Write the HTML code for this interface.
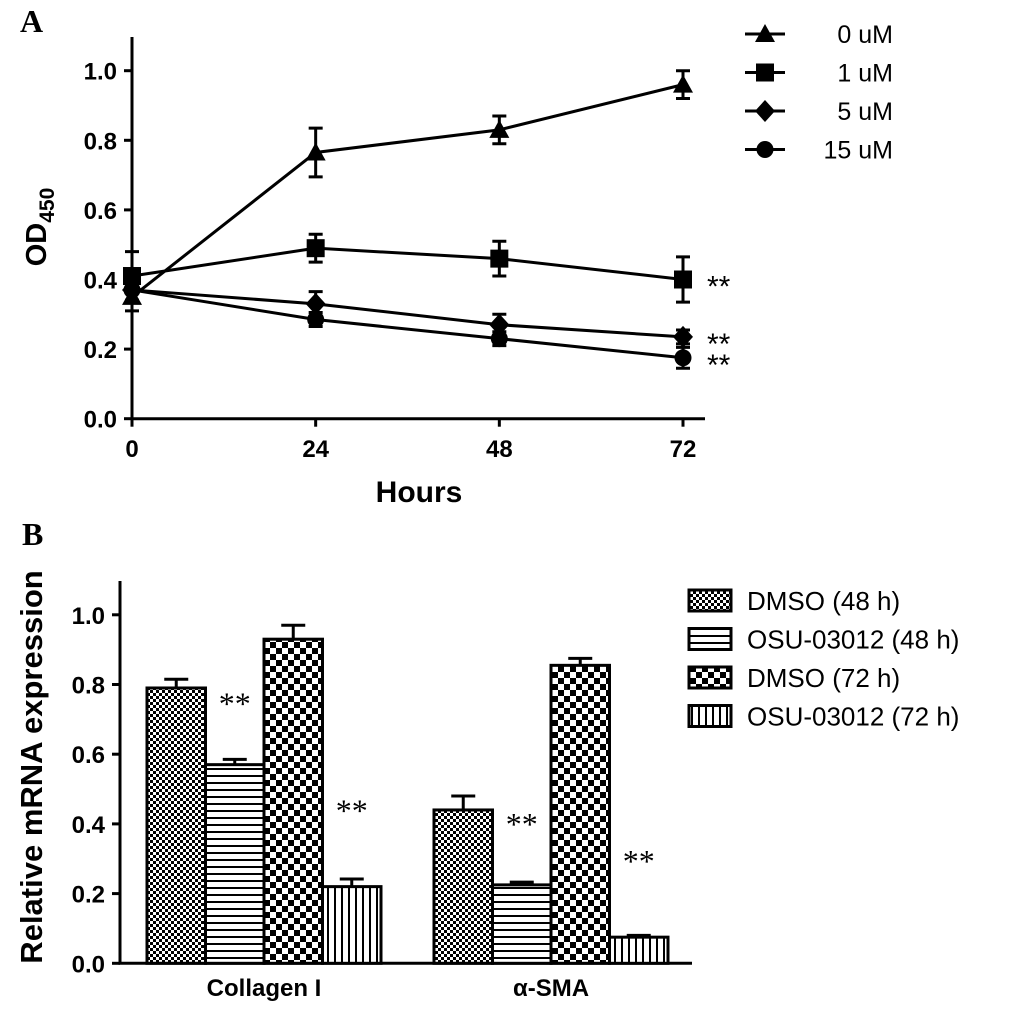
<!DOCTYPE html>
<html><head><meta charset="utf-8"><style>
html,body{margin:0;padding:0;background:#fff;}
svg{display:block;font-family:"Liberation Sans",Arial,sans-serif;}
.tk{font-weight:bold;font-size:24px;}
</style></head><body>
<svg id="s" width="1033" height="1017" viewBox="0 0 1033 1017">
<defs>
<pattern id="pFine" width="6" height="6" patternUnits="userSpaceOnUse"><rect width="6" height="6" fill="#fff"/><rect width="3" height="3" fill="#000"/><rect x="3" y="3" width="3" height="3" fill="#000"/></pattern>
<pattern id="pHor" width="6" height="7" patternUnits="userSpaceOnUse"><rect width="6" height="7" fill="#fff"/><rect y="5" width="6" height="2" fill="#000"/></pattern>
<pattern id="pBig" width="12" height="12" patternUnits="userSpaceOnUse"><rect width="12" height="12" fill="#fff"/><rect width="6" height="6" fill="#000"/><rect x="6" y="6" width="6" height="6" fill="#000"/></pattern>
<pattern id="pVer" width="7" height="6" patternUnits="userSpaceOnUse"><rect width="7" height="6" fill="#fff"/><rect x="5" width="2" height="6" fill="#000"/></pattern>
</defs>
<text x="20" y="32" font-family="Liberation Serif" font-weight="bold" font-size="32">A</text>
<text x="22" y="545" font-family="Liberation Serif" font-weight="bold" font-size="32">B</text>
<g id="ga"></g><g id="gb"></g>
</svg>
<script>
const NS='http://www.w3.org/2000/svg';
function mk(p,t,a,txt){const e=document.createElementNS(NS,t);for(const k in a)e.setAttribute(k,a[k]);if(txt!=null)e.textContent=txt;p.appendChild(e);return e;}
// ---- Panel A data
const hours=[0,24,48,72];
const aTicks=[0,0.2,0.4,0.6,0.8,1.0];
const aSeriesNames=['0 uM','1 uM','5 uM','15 uM'];
const s0=[0.35,0.765,0.83,0.96];const e0=[0.04,0.07,0.04,0.04];
const s1=[0.41,0.49,0.46,0.40];const e1=[0.07,0.04,0.05,0.065];
const s5=[0.37,0.33,0.27,0.235];const e5=[0.03,0.035,0.03,0.02];
const s15=[0.37,0.285,0.23,0.175];const e15=[0.03,0.02,0.02,0.03];
const aSig=['','**','**','**'];
// ---- Panel B data
const bCats=['Collagen I','α-SMA'];
const bNames=['DMSO (48 h)','OSU-03012 (48 h)','DMSO (72 h)','OSU-03012 (72 h)'];
const bVal0=[0.79,0.44];const bErr0=[0.025,0.04];
const bVal1=[0.57,0.225];const bErr1=[0.015,0.008];
const bVal2=[0.93,0.855];const bErr2=[0.04,0.02];
const bVal3=[0.22,0.075];const bErr3=[0.022,0.005];
const bSig=['','**','','**'];
const bTicks=[0,0.2,0.4,0.6,0.8,1.0];

const ga=document.getElementById('ga');
const ax=h=>132+h/72*551, ay=v=>418.7-v/0.2*69.6;
let el;
el=mk(ga,'path',{d:`M132 37 V${ay(0)} M${ax(0)} ${ay(0)} H705`,stroke:'#000','stroke-width':3,fill:'none'});

aTicks.forEach(t=>{mk(ga,'line',{x1:124,x2:132,y1:ay(t),y2:ay(t),stroke:'#000','stroke-width':3});
 el=mk(ga,'text',{x:117,y:ay(t)+9,'text-anchor':'end',class:'tk'},t.toFixed(1));
 });
hours.forEach(h=>{mk(ga,'line',{x1:ax(h),x2:ax(h),y1:ay(0),y2:ay(0)+8,stroke:'#000','stroke-width':3});
 el=mk(ga,'text',{x:ax(h),y:457,'text-anchor':'middle',class:'tk'},h);
 });
el=mk(ga,'text',{x:419,y:502,'text-anchor':'middle','font-weight':'bold','font-size':30},'Hours');

el=mk(ga,'text',{transform:'translate(46 227) rotate(-90)','text-anchor':'middle','font-weight':'bold','font-size':29});
el.innerHTML='OD<tspan font-size="21" dy="8">450</tspan>';

function marker(g,type,x,y){
 if(type==0)return mk(g,'path',{d:`M${x} ${y-10} L${x+10} ${y+8} L${x-10} ${y+8}Z`,fill:'#000'});
 if(type==1)return mk(g,'rect',{x:x-9,y:y-9,width:18,height:18,fill:'#000'});
 if(type==2)return mk(g,'path',{d:`M${x} ${y-11} L${x+10} ${y} L${x} ${y+11} L${x-10} ${y}Z`,fill:'#000'});
 return mk(g,'circle',{cx:x,cy:y,r:8.5,fill:'#000'});}
const aS=[s0,s1,s5,s15],aE=[e0,e1,e5,e15];
aS.forEach((s,i)=>{
 const g=mk(ga,'g',{});
 mk(g,'polyline',{points:s.map((v,j)=>ax(hours[j])+','+ay(v)).join(' '),fill:'none',stroke:'#000','stroke-width':3});
 s.forEach((v,j)=>{const x=ax(hours[j]),e=aE[i][j];
  mk(g,'path',{d:`M${x} ${ay(v-e)} V${ay(v+e)} M${x-7} ${ay(v-e)} H${x+7} M${x-7} ${ay(v+e)} H${x+7}`,stroke:'#000','stroke-width':3,fill:'none'});
  el=marker(g,i,x,ay(v));});
 if(aSig[i]){el=mk(g,'text',{x:707,y:ay(s[3])+17,'font-size':30},aSig[i]);}
 const ly=34+i*38.5;
 const lg=mk(ga,'g',{});
 mk(lg,'line',{x1:745,x2:785,y1:ly,y2:ly,stroke:'#000','stroke-width':3});marker(lg,i,765,ly);
 mk(lg,'text',{x:893,y:ly+9,'text-anchor':'end','font-size':25},aSeriesNames[i]);
});
// ---- Panel B
const gb=document.getElementById('gb');
const by=v=>963.3-v/0.2*69.7;
const groupX=[147,434], bw=58.5;
const bV=[bVal0,bVal1,bVal2,bVal3],bE=[bErr0,bErr1,bErr2,bErr3],pats=['pFine','pHor','pBig','pVer'];
el=mk(gb,'path',{d:`M120 581 V${by(0)} H692`,stroke:'#000','stroke-width':3,fill:'none'});

bTicks.forEach(t=>{mk(gb,'line',{x1:112,x2:120,y1:by(t),y2:by(t),stroke:'#000','stroke-width':3});
 el=mk(gb,'text',{x:105,y:by(t)+9,'text-anchor':'end',class:'tk'},t.toFixed(1));
 });
el=mk(gb,'text',{transform:'translate(42 767) rotate(-90)','text-anchor':'middle','font-weight':'bold','font-size':31},'Relative mRNA expression');

bCats.forEach((c,ci)=>{
 el=mk(gb,'text',{x:groupX[ci]+2*bw,y:996,'text-anchor':'middle',class:'tk'},c);
 
 bV.forEach((vals,si)=>{const x=groupX[ci]+si*bw,v=vals[ci],e=bE[si][ci];
  el=mk(gb,'rect',{x:x,y:by(v),width:bw,height:by(0)-by(v),fill:`url(#${pats[si]})`,stroke:'#000','stroke-width':3});
  
  mk(gb,'path',{d:`M${x+bw/2} ${by(v)} V${by(v+e)} M${x+bw/2-12} ${by(v+e)} H${x+bw/2+12}`,stroke:'#000','stroke-width':3});
  if(bSig[si]){el=mk(gb,'text',{x:x+bw/2,y:by(v)-50+(si==3?-15:0),'text-anchor':'middle','font-family':'Liberation Serif','font-size':32},bSig[si]);
   }
 });
});
bNames.forEach((n,i)=>{const ly=600+i*38.5;
 const lg=mk(gb,'g',{});
 mk(lg,'rect',{x:689,y:ly-10,width:42,height:21,fill:`url(#${pats[i]})`,stroke:'#000','stroke-width':3});
 mk(lg,'text',{x:747,y:ly+10,'font-size':26},n);});
</script>
</body></html>
